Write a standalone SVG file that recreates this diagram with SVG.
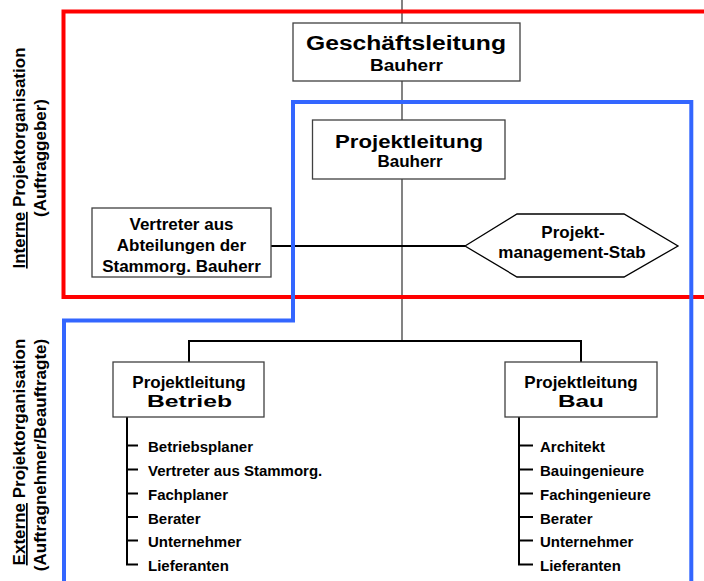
<svg xmlns="http://www.w3.org/2000/svg" width="704" height="581" viewBox="0 0 704 581">
<style>
text{font-family:"Liberation Sans",Arial,sans-serif;font-weight:bold;fill:#000}
.box{fill:#fff;stroke:#404040;stroke-width:1.3}
.c{text-anchor:middle}
.thin{stroke:#404040;stroke-width:1.3;fill:none}
.thick{stroke:#000;stroke-width:2;fill:none}
.list{font-size:15px}
.side{font-size:17px;text-anchor:middle}
</style>
<rect width="704" height="581" fill="#fff"/>
<g id="connectors">
<line class="thin" x1="402" y1="0" x2="402" y2="341"/>
<line class="thick" x1="271" y1="246" x2="465" y2="246"/>
<polyline class="thick" points="189,362 189,341 581,341 581,362"/>
<polyline class="thick" points="127,417 127,564.5 138,564.5"/>
<path class="thick" d="M127 445.5H138M127 469.5H138M127 493.5H138M127 517H138M127 540.5H138"/>
<polyline class="thick" points="519,417 519,564.5 533,564.5"/>
<path class="thick" d="M519 445.5H533M519 469.5H533M519 493.5H533M519 517H533M519 540.5H533"/>
</g>
<g id="region-intern">
<path d="M706 11.5H63.5V297H706" fill="none" stroke="#ff0000" stroke-width="4"/>
</g>
<g id="region-extern">
<path d="M64 585V320.5H293V102H691.3V585" fill="none" stroke="#3366ff" stroke-width="4"/>
</g>
<g id="geschaeftsleitung">
<rect class="box" x="293" y="23" width="227" height="58"/>
<text x="306" y="49.5" font-size="20" textLength="200" lengthAdjust="spacingAndGlyphs">Geschäftsleitung</text>
<text x="370" y="71" font-size="17" textLength="73" lengthAdjust="spacingAndGlyphs">Bauherr</text>
</g>
<g id="projektleitung-bauherr">
<rect class="box" x="312.5" y="120" width="192.5" height="59"/>
<text x="335" y="147.5" font-size="19" textLength="148" lengthAdjust="spacingAndGlyphs">Projektleitung</text>
<text class="c" x="410" y="166.5" font-size="17">Bauherr</text>
</g>
<g id="vertreter">
<rect class="box" x="92" y="208" width="179" height="69"/>
<text class="c" x="181.5" y="230" font-size="17">Vertreter aus</text>
<text class="c" x="181.5" y="251" font-size="17">Abteilungen der</text>
<text class="c" x="181.5" y="272" font-size="17">Stammorg. Bauherr</text>
</g>
<g id="pm-stab">
<polygon points="465,246 517,214 624,214 678,246 624,277 517,277" fill="#fff" stroke="#000" stroke-width="1.3"/>
<text class="c" x="573" y="238" font-size="17">Projekt-</text>
<text class="c" x="572" y="258" font-size="17">management-Stab</text>
</g>
<g id="pl-betrieb">
<rect class="box" x="113" y="362" width="151" height="55"/>
<text class="c" x="189" y="388" font-size="17">Projektleitung</text>
<text x="147" y="407" font-size="16" textLength="85" lengthAdjust="spacingAndGlyphs">Betrieb</text>
</g>
<g id="pl-bau">
<rect class="box" x="505" y="362" width="152" height="55"/>
<text class="c" x="581" y="388" font-size="17">Projektleitung</text>
<text x="558" y="407" font-size="16" textLength="46" lengthAdjust="spacingAndGlyphs">Bau</text>
</g>
<g id="list-betrieb" class="list">
<text x="148" y="452">Betriebsplaner</text>
<text x="148" y="476">Vertreter aus Stammorg.</text>
<text x="148" y="500">Fachplaner</text>
<text x="148" y="523.5">Berater</text>
<text x="148" y="547">Unternehmer</text>
<text x="148" y="571">Lieferanten</text>
</g>
<g id="list-bau" class="list">
<text x="540" y="452">Architekt</text>
<text x="540" y="476">Bauingenieure</text>
<text x="540" y="500">Fachingenieure</text>
<text x="540" y="523.5">Berater</text>
<text x="540" y="547">Unternehmer</text>
<text x="540" y="571">Lieferanten</text>
</g>
<g id="label-intern">
<text class="side" transform="translate(25,158) rotate(-90)"><tspan text-decoration="underline">Interne</tspan> Projektorganisation</text>
<text class="side" transform="translate(46,158) rotate(-90)">(Auftraggeber)</text>
</g>
<g id="label-extern">
<text class="side" transform="translate(25,452) rotate(-90)"><tspan text-decoration="underline">Externe</tspan> Projektorganisation</text>
<text class="side" transform="translate(46,455) rotate(-90)">(Auftragnehmer/Beauftragte)</text>
</g>
</svg>
